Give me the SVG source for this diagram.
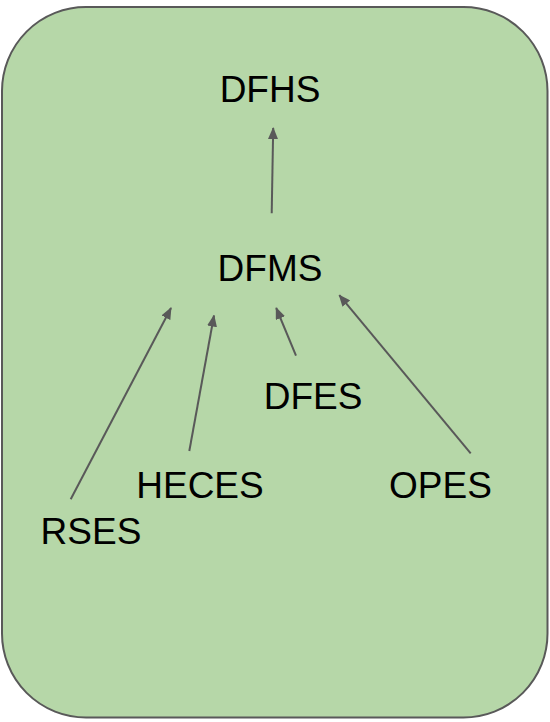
<svg xmlns="http://www.w3.org/2000/svg" width="550" height="722" viewBox="0 0 550 722">
<style>
.lbl{font-family:"Liberation Sans",Arial,sans-serif;font-size:37px;fill:#000;text-anchor:middle}
.edge{stroke:#595959;stroke-width:2;fill:none;marker-end:url(#ah)}
</style>
<defs>
<marker id="ah" viewBox="0 0 12 10" refX="11" refY="5" markerWidth="6" markerHeight="5" markerUnits="strokeWidth" orient="auto">
<path d="M0,0 L12,5 L0,10 Z" fill="#595959"/>
</marker>
</defs>
<g id="container">
<rect x="2" y="7" width="545.5" height="710.5" rx="84" ry="84" fill="#b6d7a8" stroke="#595959" stroke-width="2"/>
</g>
<g id="connectors">
<line class="edge" x1="271.7" y1="213.3" x2="273.2" y2="128"/>
<line class="edge" x1="70.7" y1="499.3" x2="171" y2="308"/>
<line class="edge" x1="189.3" y1="451" x2="214" y2="315.5"/>
<line class="edge" x1="296" y1="355.7" x2="276.2" y2="308"/>
<line class="edge" x1="470.7" y1="453.3" x2="339.3" y2="295.2"/>
</g>
<g id="DFHS"><text class="lbl" x="270" y="102">DFHS</text></g>
<g id="DFMS"><text class="lbl" x="270" y="281">DFMS</text></g>
<g id="DFES"><text class="lbl" x="313" y="409">DFES</text></g>
<g id="HECES"><text class="lbl" x="200" y="498">HECES</text></g>
<g id="OPES"><text class="lbl" x="440.5" y="498">OPES</text></g>
<g id="RSES"><text class="lbl" x="91" y="544">RSES</text></g>
</svg>
